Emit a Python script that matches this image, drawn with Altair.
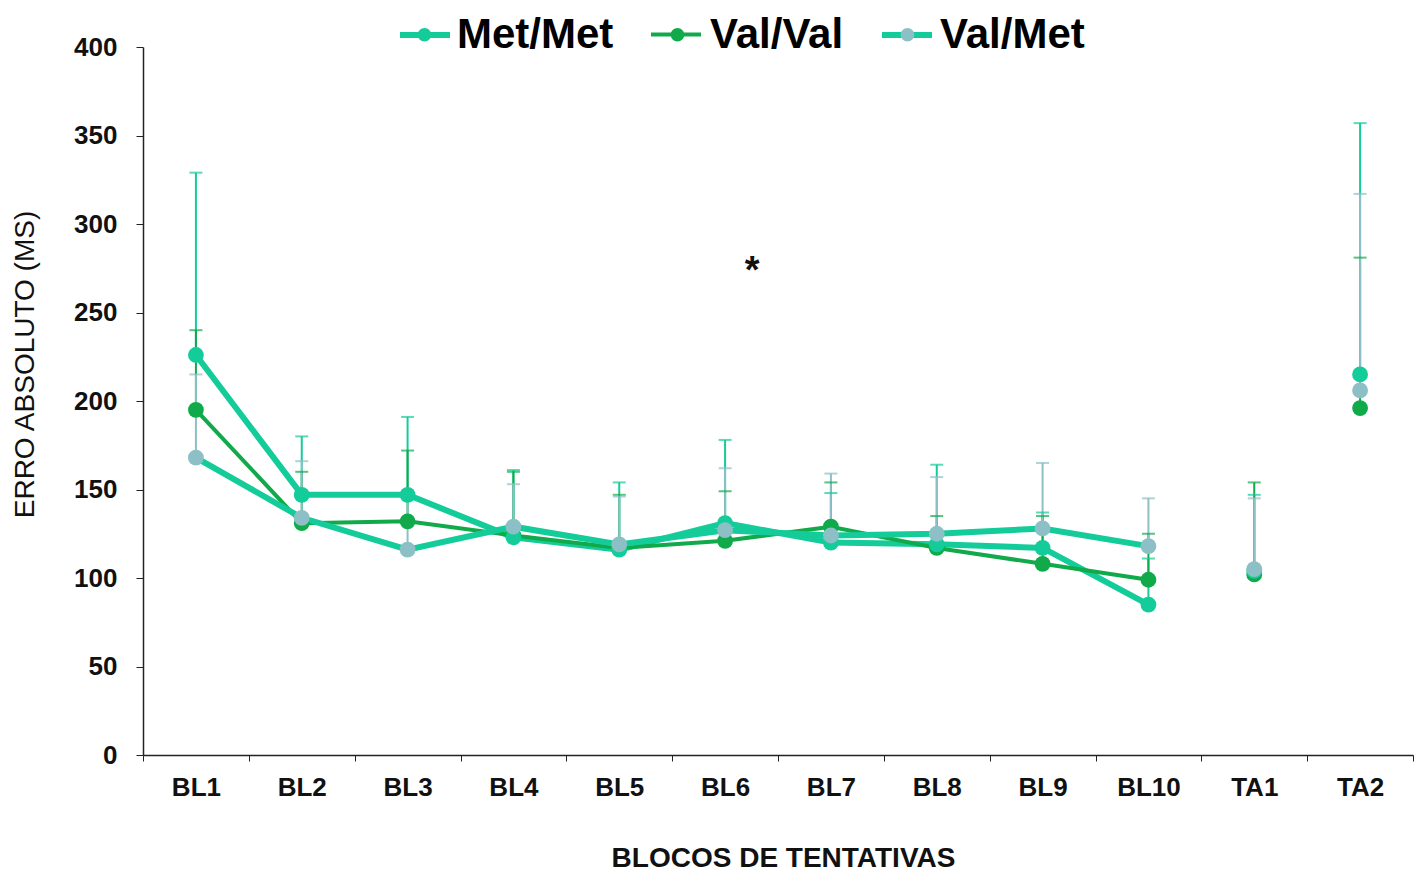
import altair as alt
import pandas as pd

# ---- data ----
blocos = ["BL1", "BL2", "BL3", "BL4", "BL5", "BL6", "BL7", "BL8", "BL9", "BL10", "TA1", "TA2"]
grupos = ["Met/Met", "Val/Val", "Val/Met"]

met_met_media = [226, 147, 147, 123, 116, 131, 120, 119, 117, 85, 104, 215]
val_val_media = [195, 131, 132, 124, 117, 121, 129, 117, 108, 99, 102, 196]
val_met_media = [168, 134, 116, 129, 119, 127, 124, 125, 128, 118, 105, 206]

met_met_sup = [329, 180, 191, 161, 154, 178, 148, 164, 137, 111, 147, 357]
val_val_sup = [240, 160, 172, 160, 147, 149, 154, 135, 135, 125, 154, 281]
val_met_sup = [215, 166, 146, 153, 146, 162, 159, 157, 165, 145, 145, 317]

asterisco_bloco = ["BL6"]
asterisco_valor = [273]

# ---- styles ----
cor_linha = ["#14CC99", "#10AA4A", "#14CC99"]
cor_ponto = ["#14CC99", "#10AA4A", "#8CBFC6"]
espessura = [6, 4, 6]
ordem_ponto = {"Val/Val": 0, "Met/Met": 1, "Val/Met": 2}

medias = {"Met/Met": met_met_media, "Val/Val": val_val_media, "Val/Met": val_met_media}
sups = {"Met/Met": met_met_sup, "Val/Val": val_val_sup, "Val/Met": val_met_sup}

rows = []
for g in grupos:
    for i, b in enumerate(blocos):
        rows.append({
            "bloco": b,
            "grupo": g,
            "grupo_p": g,
            "media": medias[g][i],
            "sup": sups[g][i],
            "ligado": b.startswith("BL"),
            "ordem": ordem_ponto[g],
        })
df = pd.DataFrame(rows)
df_ast = pd.DataFrame({"bloco": asterisco_bloco, "valor": asterisco_valor, "txt": ["*"]})

FONT = "Liberation Sans"

x_enc = alt.X(
    "bloco:N",
    sort=blocos,
    scale=alt.Scale(type="band", paddingInner=0, paddingOuter=0, domain=blocos),
    axis=alt.Axis(
        title="BLOCOS DE TENTATIVAS",
        labelAngle=0,
        tickBand="extent",
        tickSize=6,
        tickColor="#222222",
        domainColor="#222222",
        domainWidth=1.5,
        labelFont=FONT,
        labelFontSize=26,
        labelFontWeight="bold",
        labelColor="#111111",
        labelPadding=13,
        titleFont=FONT,
        titleFontSize=28,
        titleFontWeight="bold",
        titleColor="#111111",
        titlePadding=44,
        titleX=640,
    ),
)

y_scale = alt.Scale(domain=[0, 400], nice=False, zero=True)
y_axis = alt.Axis(
    title="ERRO ABSOLUTO (MS)",
    values=list(range(0, 401, 50)),
    grid=False,
    tickSize=7,
    tickColor="#222222",
    domainColor="#222222",
    domainWidth=1.5,
    labelFont=FONT,
    labelFontSize=26,
    labelFontWeight="bold",
    labelColor="#111111",
    labelPadding=19,
    titleFont=FONT,
    titleFontSize=28,
    titleFontWeight="normal",
    titleColor="#111111",
    titlePadding=34,
    titleY=317,
)

base = alt.Chart(df)

cor_barra = alt.Color("grupo_p:N", sort=grupos, scale=alt.Scale(range=cor_ponto), legend=None)

barras = base.mark_rule(strokeWidth=2).encode(
    x=x_enc,
    y=alt.Y("media:Q", scale=y_scale, axis=y_axis),
    y2="sup:Q",
    color=cor_barra,
)

capas = base.mark_tick(size=13, thickness=2).encode(
    x=x_enc,
    y=alt.Y("sup:Q", scale=y_scale),
    color=cor_barra,
)

# two overlaid legends with identical geometry: the line part from the stroke scale,
# the marker part from the fill scale
comum = dict(
    orient="none", legendX=254, legendY=-40, direction="horizontal", title=None,
    symbolSize=2500, symbolStrokeWidth=5, labelFont=FONT, labelFontSize=42,
    labelFontWeight="bold", labelColor="#000000", labelOffset=5, columnPadding=28,
    padding=0,
)
legenda_linha = alt.Legend(
    symbolType="M-1,0L1,0M0.08,0A0.08,0.08,0,1,1,-0.08,0A0.08,0.08,0,1,1,0.08,0",
    symbolFillColor="transparent", labelOpacity=0, **comum,
)
legenda_ponto = alt.Legend(
    symbolType="M-1,0L1,0M0.27,0A0.27,0.27,0,1,1,-0.27,0A0.27,0.27,0,1,1,0.27,0",
    symbolStrokeColor="transparent", symbolOpacity=1, **comum,
)

linhas = base.mark_line().encode(
    x=x_enc,
    y=alt.Y("media:Q", scale=y_scale),
    stroke=alt.Stroke("grupo:N", scale=alt.Scale(domain=grupos, range=cor_linha), legend=legenda_linha),
    strokeWidth=alt.StrokeWidth("grupo:N", scale=alt.Scale(type="ordinal", domain=grupos, range=espessura), legend=None),
).transform_filter(alt.datum.ligado)

pontos = base.mark_circle(size=250, opacity=1).encode(
    x=x_enc,
    y=alt.Y("media:Q", scale=y_scale),
    fill=alt.Fill("grupo_p:N", sort=grupos, scale=alt.Scale(range=cor_ponto), legend=legenda_ponto),
    order=alt.Order("ordem:Q"),
)

asterisco = alt.Chart(df_ast).mark_text(
    font=FONT, fontSize=38, fontWeight="bold", color="#111111", dx=27, baseline="middle"
).encode(
    x=x_enc,
    y=alt.Y("valor:Q", scale=y_scale),
    text="txt:N",
)

chart = alt.layer(barras, capas, linhas, pontos, asterisco).properties(
    width=1270,
    height=708,
    padding={"left": 143, "top": 47, "right": 1, "bottom": 116},
    autosize=alt.AutoSizeParams(type="none"),
    background="white",
).configure_view(stroke=None)

chart.save("out.html", embed_options={"renderer": "svg", "actions": False})
